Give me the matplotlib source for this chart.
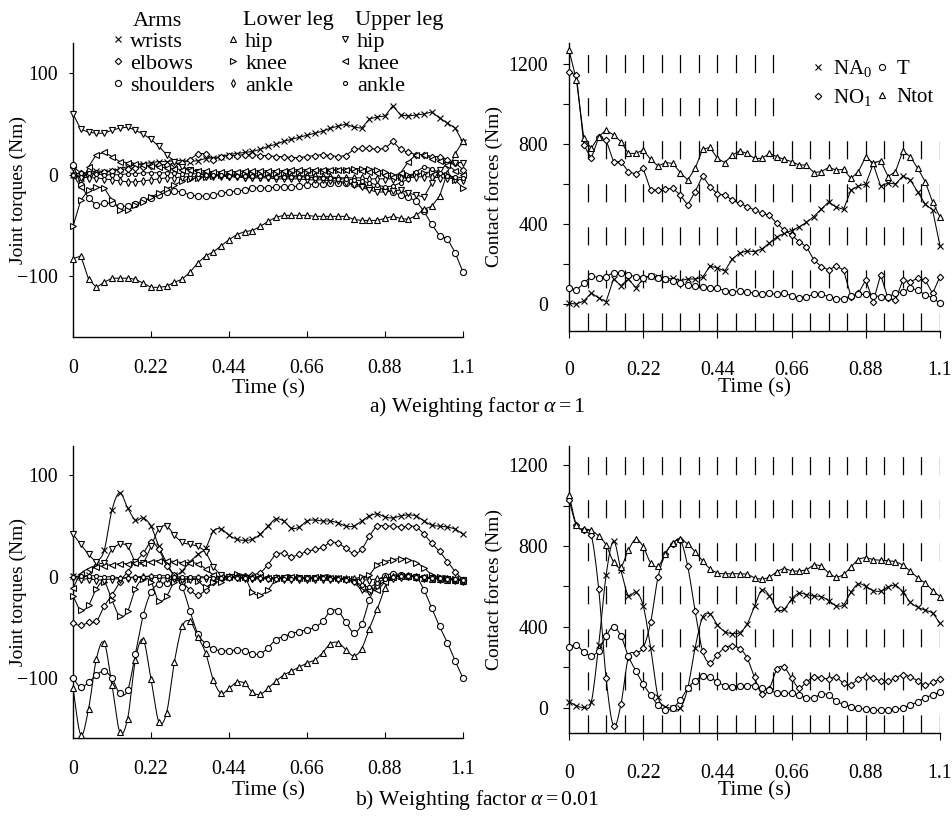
import numpy as np
import matplotlib
matplotlib.use('Agg')
import matplotlib.pyplot as plt
from matplotlib.lines import Line2D

plt.rcParams['font.family'] = ['Liberation Serif', 'DejaVu Serif']
plt.rcParams['mathtext.fontset'] = 'custom'
plt.rcParams['mathtext.rm'] = 'Liberation Serif'
plt.rcParams['mathtext.it'] = 'Liberation Serif:italic'
plt.rcParams['lines.scale_dashes'] = False

# sampling instants of the optimised motion (51 nodes over 1.1 s)
t = np.linspace(0, 1.1, 51)
time_ticks = [0, 0.22, 0.44, 0.66, 0.88, 1.1]
time_labels = ['0', '0.22', '0.44', '0.66', '0.88', '1.1']

# ---- a) weighting factor alpha = 1 : joint torques (Nm)
wrists_a = [0, -3, 2, 4, 3, 4, 6, 8, 10, 11, 12, 13, 13, 14, 14, 13, 14, 16, 17, 18,
            20, 21, 22, 23, 25, 28, 30, 33, 35, 37, 39, 41, 43, 46, 48, 50, 47, 46, 55, 57,
            58, 68, 59, 58, 59, 60, 62, 56, 51, 46, 32]
elbows_a = [8, 2, 0, 2, 3, 4, 5, 6, 7, 8, 9, 10, 10, 11, 12, 15, 21, 21, 15, 18,
            19, 19, 20, 20, 19, 19, 18, 18, 17, 17, 18, 19, 20, 19, 18, 19, 25, 26, 26, 25,
            26, 33, 25, 22, 20, 20, 18, 18, 15, 12, 5]
shoulders_a = [10, -10, -23, -30, -28, -28, -31, -31, -29, -25, -23, -20, -17, -16, -17, -20, -21, -21, -20, -18,
               -17, -16, -15, -13, -13, -13, -12, -12, -12, -11, -10, -9, -9, -8, -8, -8, -9, -10, -12, -13,
               -14, -17, -20, -22, -26, -36, -49, -60, -63, -77, -96]
hip_low_a = [-83, -80, -103, -111, -106, -102, -102, -102, -103, -107, -111, -111, -110, -106, -103, -96, -87, -80, -76, -70,
             -64, -59, -56, -55, -51, -46, -42, -40, -40, -40, -40, -41, -41, -41, -41, -41, -44, -45, -45, -45,
             -43, -41, -43, -44, -40, -34, -31, -21, 2, 21, 33]
knee_low_a = [-51, -25, -15, -12, -13, -25, -35, -35, -30, -27, -22, -18, -14, -10, -6, -4, -3, -2, -1, 0,
              0, 1, 1, 1, 2, 2, 2, 2, 3, 3, 3, 3, 4, 4, 5, 5, 6, 6, 6, 5,
              3, 0, -2, 0, 1, 2, 3, 2, 0, -5, -13]
ankle_low_a = [0, -2, -3, -3, -4, -5, -6, -7, -7, -6, -5, -4, -3, -3, -2, -2, -2, -1, -1, -1,
               -1, -1, -2, -2, -2, -2, -2, -1, -1, -1, -1, -1, -2, -2, -3, -3, -3, -3, -4, -4,
               -4, -4, -3, -3, -2, -2, -2, -3, -3, -4, -5]
hip_up_a = [60, 45, 42, 41, 41, 44, 46, 47, 44, 40, 35, 28, 20, 13, 8, 5, 3, 1, 0, -1,
            -2, -2, -3, -3, -3, -3, -4, -4, -4, -4, -5, -5, -5, -6, -6, -8, -10, -12, -15, -17,
            -17, -16, -15, -18, -20, -22, -8, 5, 10, 12, 12]
knee_up_a = [0, -12, 8, 20, 22, 18, 13, 12, 11, 10, 9, 8, 7, 6, 5, 5, 4, 4, 3, 3,
             3, 3, 4, 4, 4, 4, 4, 4, 5, 5, 5, 5, 5, 5, 5, 5, 4, 4, 3, 2,
             0, -2, 2, 13, 20, 20, 16, 14, 10, 4, 0]
ankle_up_a = [0, 2, 2, 1, 0, 0, 0, 1, 1, 2, 2, 2, 2, 2, 1, 1, 1, 0, 0, 0,
              -1, -1, -1, -1, -1, -2, -2, -2, -2, -2, -2, -3, -3, -3, -4, -4, -5, -6, -8, -10,
              -12, -11, -8, -4, 3, 8, 6, 2, -1, -2, -3]

# ---- a) contact forces
na0_a = [3, 0, 15, 55, 30, 12, 125, 92, 125, 82, 125, 142, 133, 125, 128, 117, 125, 125, 133, 190,
         180, 165, 225, 255, 265, 262, 275, 305, 335, 353, 367, 385, 408, 437, 475, 510, 485, 473, 570, 590,
         600, 700, 590, 605, 600, 640, 620, 560, 500, 470, 290]
no1_a = [1158, 1145, 795, 728, 833, 820, 712, 712, 662, 650, 678, 570, 570, 575, 578, 545, 495, 562, 640, 587,
         550, 545, 520, 503, 487, 470, 453, 445, 403, 370, 345, 312, 287, 220, 187, 170, 190, 170, 37, 53,
         120, 12, 145, 28, 20, 120, 112, 128, 120, 53, 137]
T_a = [78, 70, 103, 140, 132, 137, 157, 157, 145, 137, 132, 140, 132, 123, 115, 103, 95, 90, 87, 82,
       78, 67, 62, 65, 62, 53, 48, 53, 48, 53, 42, 32, 37, 48, 48, 37, 25, 25, 42, 48,
       48, 42, 37, 37, 53, 62, 78, 70, 45, 32, 3]
ntot_a = [1270, 1120, 828, 778, 837, 870, 845, 812, 753, 753, 770, 723, 690, 707, 703, 657, 620, 678, 773, 783,
          728, 707, 745, 765, 753, 728, 728, 753, 737, 723, 712, 695, 695, 657, 662, 683, 670, 673, 628, 662,
          737, 703, 717, 637, 662, 765, 737, 678, 612, 510, 435]

# ---- b) weighting factor alpha = 0.01 : joint torques (Nm)
wrists_b = [1, 0, 2, 14, 26, 66, 83, 68, 56, 58, 50, 30, 14, 2, 6, 15, 22, 28, 45, 47,
            41, 37, 36, 37, 42, 50, 57, 55, 48, 49, 55, 56, 55, 55, 53, 50, 50, 55, 60, 62,
            59, 58, 60, 61, 60, 55, 51, 50, 49, 47, 42]
elbows_b = [-46, -48, -45, -44, -29, -18, -5, 5, 15, 23, 34, 27, 11, 2, -5, -13, -18, -13, -5, -1,
            0, 1, 1, 2, 4, 12, 22, 23, 20, 22, 25, 27, 29, 34, 33, 28, 23, 27, 40, 50,
            50, 50, 49, 50, 49, 42, 33, 25, 15, 5, -3]
shoulders_b = [-100, -109, -104, -97, -93, -100, -115, -112, -76, -38, -15, -7, -6, -1, -10, -34, -56, -66, -71, -73,
               -73, -72, -73, -76, -76, -70, -62, -59, -56, -54, -52, -50, -44, -34, -34, -45, -55, -47, -23, -5,
               1, 3, 2, 1, 0, -13, -31, -49, -65, -83, -100]
hip_low_b = [-110, -156, -130, -81, -65, -107, -153, -140, -82, -62, -101, -143, -134, -84, -49, -44, -59, -75, -102, -115,
             -110, -104, -105, -114, -116, -110, -103, -97, -93, -89, -85, -82, -75, -66, -65, -72, -78, -71, -51, -32,
             -11, 0, 1, 1, 0, -1, -2, -2, -3, -3, -4]
knee_low_b = [-19, -33, -28, -12, -5, -23, -39, -34, -12, -2, -5, -24, -19, -5, -3, -2, -4, -10, -5, -5,
              0, 3, 0, -15, -18, -13, -3, -1, 0, 0, -1, -1, 0, 0, -1, -2, -2, 0, 2, 12,
              15, 17, 18, 17, 14, 9, 2, 0, -1, -2, -3]
ankle_low_b = [0, -2, -2, -3, -3, -2, -2, -1, -1, 0, 0, -1, -1, -1, -2, -2, -1, -1, 0, 0,
               0, 0, -1, -1, -1, -1, -1, -2, -2, -2, -2, -2, -2, -2, -2, -2, -2, -3, -3, -2,
               -1, 0, 1, 1, 0, -1, -1, -2, -2, -3, -4]
hip_up_b = [42, 32, 22, 15, 14, 27, 32, 30, 15, 14, 30, 47, 50, 41, 34, 32, 30, 24, 10, 2,
            0, -1, -1, -2, -2, -2, -1, -1, -1, -1, -1, -1, -1, -2, -2, -3, -5, -13, -15, -10,
            -4, -2, -1, 0, 0, -1, -1, -2, -2, -3, -3]
knee_up_b = [-11, 3, 8, 10, 11, 12, 13, 13, 14, 14, 15, 16, 16, 15, 14, 14, 13, 8, 2, 0,
             0, -1, -1, 0, 0, -1, -1, 0, 0, -1, -1, 0, 0, -1, -1, -2, -5, -10, -13, -13,
             -5, 0, 1, 1, 0, 0, -1, -1, -2, -2, -3]
ankle_up_b = [0, 1, 1, 1, 0, 0, -1, -1, 0, 0, 1, 1, 1, 0, 0, 0, 0, 0, -1, -1,
              -1, -1, -1, -1, -1, -2, -2, -2, -2, -1, -1, -1, -1, -2, -2, -3, -5, -8, -10, -6,
              -2, 0, 1, 1, 0, 0, -1, -1, -2, -2, -3]

# ---- b) contact forces
na0_b = [30, 10, 2, 27, 310, 655, 825, 680, 555, 572, 505, 297, 55, 5, 0, -3, 97, 297, 447, 463,
         410, 377, 367, 372, 413, 502, 583, 555, 488, 488, 538, 567, 560, 552, 550, 530, 505, 510, 572, 613,
         600, 580, 577, 597, 605, 572, 522, 497, 483, 467, 417]
no1_b = [1030, 902, 880, 855, 588, 147, -90, 17, 250, 272, 297, 422, 647, 763, 810, 830, 700, 477, 280, 222,
         263, 297, 305, 293, 247, 150, 68, 95, 190, 200, 146, 98, 127, 152, 147, 143, 150, 122, 113, 143,
         152, 147, 133, 130, 147, 163, 152, 133, 113, 125, 143]
T_b = [300, 310, 275, 258, 283, 355, 400, 355, 255, 183, 117, 63, 13, -12, 0, 38, 97, 133, 155, 150,
       127, 110, 105, 110, 110, 110, 97, 88, 72, 72, 72, 63, 50, 50, 67, 63, 33, 17, 5, -3,
       -7, -12, -13, -13, -8, 0, 13, 30, 50, 63, 77]
ntot_b = [1055, 905, 883, 877, 850, 805, 722, 697, 780, 833, 797, 717, 700, 763, 817, 833, 810, 772, 727, 688,
          667, 663, 663, 663, 660, 643, 637, 647, 672, 688, 677, 677, 683, 705, 700, 667, 647, 660, 697, 733,
          742, 733, 730, 727, 722, 705, 675, 643, 617, 580, 550]

# marker per joint / force component
joint_marks = {
    'wrists': ('x', 5.0), 'elbows': ('D', 3.3), 'shoulders': ('o', 4.4),
    'hip_low': ('^', 4.4), 'knee_low': ('>', 4.4), 'ankle_low': ('d', 3.7),
    'hip_up': ('v', 4.4), 'knee_up': ('<', 4.4), 'ankle_up': ('o', 2.9),
}
force_marks = {'NA0': ('x', 5.0), 'NO1': ('D', 3.3), 'T': ('o', 4.4), 'Ntot': ('^', 4.4)}

torques_a = {'wrists': wrists_a, 'elbows': elbows_a, 'shoulders': shoulders_a,
             'hip_low': hip_low_a, 'knee_low': knee_low_a, 'ankle_low': ankle_low_a,
             'hip_up': hip_up_a, 'knee_up': knee_up_a, 'ankle_up': ankle_up_a}
torques_b = {'wrists': wrists_b, 'elbows': elbows_b, 'shoulders': shoulders_b,
             'hip_low': hip_low_b, 'knee_low': knee_low_b, 'ankle_low': ankle_low_b,
             'hip_up': hip_up_b, 'knee_up': knee_up_b, 'ankle_up': ankle_up_b}
forces_a = {'NA0': na0_a, 'NO1': no1_a, 'T': T_a, 'Ntot': ntot_a}
forces_b = {'NA0': na0_b, 'NO1': no1_b, 'T': T_b, 'Ntot': ntot_b}

W, H = 952, 825
fig = plt.figure(figsize=(W / 100, H / 100), dpi=100)


def axes_px(x0, y0, x1, y1):
    return fig.add_axes([x0 / W, 1 - y1 / H, (x1 - x0) / W, (y1 - y0) / H])


def catmull(x, y, n=8):
    # curved connector through the samples (spreadsheet "smoothed line")
    x = np.asarray(x, float)
    y = np.asarray(y, float)
    xp = np.concatenate([[2 * x[0] - x[1]], x, [2 * x[-1] - x[-2]]])
    yp = np.concatenate([[2 * y[0] - y[1]], y, [2 * y[-1] - y[-2]]])
    s = np.linspace(0, 1, n, endpoint=False)[:, None]

    def seg(p):
        p0, p1, p2, p3 = p[:-3], p[1:-2], p[2:-1], p[3:]
        c = 0.5 * (2 * p1 + (-p0 + p2) * s + (2 * p0 - 5 * p1 + 4 * p2 - p3) * s ** 2
                   + (-p0 + 3 * p1 - 3 * p2 + p3) * s ** 3)
        return np.append(c.T.ravel(), p[-2])

    return seg(xp), seg(yp)


def draw(ax, values, marker, ms, smooth):
    kw = dict(ls='none', marker=marker, ms=ms, mfc='white', mec='k', mew=0.8,
              zorder=4, clip_on=False)
    if smooth:
        xs, ys = catmull(t, values)
        ax.plot(xs, ys, color='k', lw=0.75, zorder=3, clip_on=False)
    else:
        ax.plot(t, values, color='k', lw=0.75, zorder=3, clip_on=False)
    ax.plot(t, values, **kw)


def frame(ax, ylim, right, xpad):
    for side in ('top', 'right'):
        ax.spines[side].set_visible(False)
    for side in ('left', 'bottom'):
        ax.spines[side].set_linewidth(1.0)
    ax.set_xlim(0, 1.1)
    ax.set_ylim(*ylim)
    ax.set_xticks(time_ticks, time_labels)
    ax.tick_params(labelsize=14.3, width=0.8)
    if right:
        ax.tick_params(axis='x', direction='out', length=5, pad=xpad)
        ax.set_yticks([0, 400, 800, 1200])
        ax.set_yticks([200, 600, 1000], minor=True)
        ax.tick_params(axis='y', which='both', direction='out', length=4, width=0.8, pad=11)
        ax.set_ylabel('Contact forces (Nm)', fontsize=14)
        ax.yaxis.set_label_coords(-0.178, 0.5)
        # vertical dashed guides every 0.055 s
        for k in range(1, 21):
            top = 0.72 if (ylim[1] > 1300 and k >= 12) else 1.0
            ax.axvline(k * 0.055, ymin=0, ymax=top, color='k', lw=0.9,
                       ls=(0, (13, 18)), zorder=1)
    else:
        ax.tick_params(axis='x', direction='in', length=4, pad=xpad)
        ax.set_yticks([-100, 0, 100])
        ax.tick_params(axis='y', direction='out', length=3, pad=8)
        ax.set_ylabel('Joint torques (Nm)', fontsize=14)
        ax.yaxis.set_label_coords(-0.118, 0.5)
    ax.set_xlabel('Time (s)', fontsize=15.5)


ax_ta = axes_px(73, 43, 463, 337)
ax_fa = axes_px(569, 43, 940, 331)
ax_tb = axes_px(73, 446, 463, 738)
ax_fb = axes_px(569, 446, 940, 733)

frame(ax_ta, (-160, 130), False, 15.5)
frame(ax_fa, (-135, 1305), True, 16.5)
frame(ax_tb, (-159, 129), False, 15.5)
frame(ax_fb, (-125, 1295), True, 17.5)

for name, vals in torques_a.items():
    draw(ax_ta, vals, *joint_marks[name], smooth=False)
for name, vals in forces_a.items():
    draw(ax_fa, vals, *force_marks[name], smooth=False)
for name, vals in torques_b.items():
    draw(ax_tb, vals, *joint_marks[name], smooth=True)
for name, vals in forces_b.items():
    draw(ax_fb, vals, *force_marks[name], smooth=True)

ax_ta.xaxis.set_label_coords(0.5, -0.142)
ax_fa.xaxis.set_label_coords(0.5, -0.163)
ax_tb.xaxis.set_label_coords(0.5, -0.147)
ax_fb.xaxis.set_label_coords(0.5, -0.167)


def handle(marker, ms):
    return Line2D([], [], ls='none', marker=marker, ms=ms, mfc='white', mec='k', mew=0.8)


# joint legend: three groups with headers
groups = [
    ('Arms', 118, 133, [('wrists', 'wrists'), ('elbows', 'elbows'), ('shoulders', 'shoulders')]),
    ('Lower leg', 233, 243, [('hip', 'hip_low'), ('knee', 'knee_low'), ('ankle', 'ankle_low')]),
    ('Upper leg', 345, 355, [('hip', 'hip_up'), ('knee', 'knee_up'), ('ankle', 'ankle_up')]),
]
for header, mx, hx, items in groups:
    fig.legend([handle(*joint_marks[k]) for _, k in items], [lab for lab, _ in items],
               loc='upper left', bbox_to_anchor=((mx - 5.6) / W, 1 - 31 / H),
               frameon=False, fontsize=16, handlelength=0.5, handletextpad=0.3,
               labelspacing=0.08, borderpad=0, borderaxespad=0)
    fig.text(hx / W, 1 - 21 / H, header, fontsize=16, va='center')

# contact force legend
ax_fa.legend([handle(*force_marks[k]) for k in ('NA0', 'NO1', 'T', 'Ntot')],
             ['NA$_0$', 'NO$_1$', 'T', 'Ntot'], ncol=2,
             loc='upper left', bbox_to_anchor=((813 - 569) / 371, (331 - 58) / 288),
             frameon=False, fontsize=15, handlelength=0.5, handletextpad=0.45,
             columnspacing=0.25, labelspacing=0.4, borderpad=0, borderaxespad=0)

fig.text(477 / W, 1 - 407 / H, r'a) Weighting factor $\alpha = 1$', fontsize=15.6,
         ha='center', va='center')
fig.text(477 / W, 1 - 800 / H, r'b) Weighting factor $\alpha = 0.01$', fontsize=15.6,
         ha='center', va='center')

fig.savefig('out.png', dpi=100)
